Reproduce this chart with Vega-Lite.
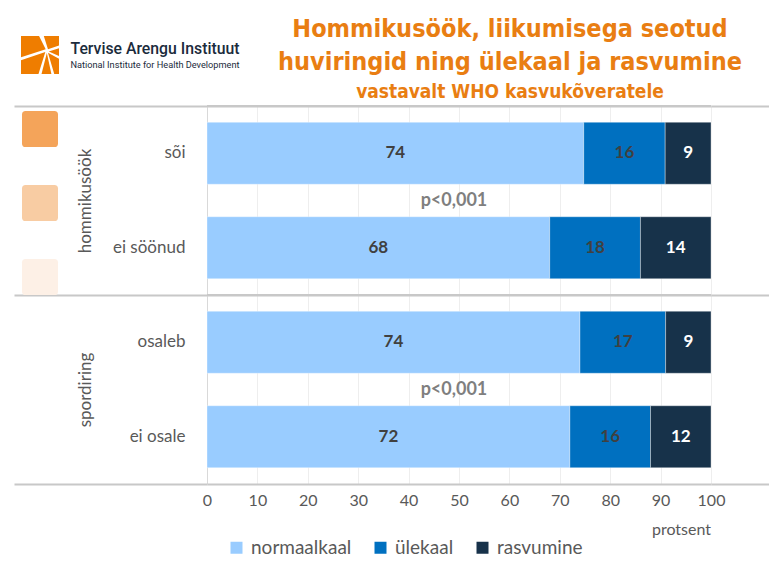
{
  "$schema": "https://vega.github.io/schema/vega-lite/v6.json",
  "width": 504,
  "height": 378,
  "autosize": {"type": "none"},
  "padding": {"left": 207, "top": 106, "right": 58, "bottom": 96},
  "background": "white",
  "config": {"view": {"stroke": null}, "font": "Lato"},
  "title": {
    "text": ["Hommikusöök, liikumisega seotud", "huviringid ning ülekaal ja rasvumine"],
    "subtitle": "vastavalt WHO kasvukõveratele",
    "anchor": "middle",
    "frame": "group",
    "dx": 51,
    "dy": 71,
    "offset": 5,
    "font": "DejaVu Sans Condensed",
    "fontSize": 25,
    "fontWeight": "bold",
    "color": "#E97E12",
    "lineHeight": 33,
    "subtitleFont": "DejaVu Sans Condensed",
    "subtitleFontSize": 19,
    "subtitleFontWeight": "bold",
    "subtitleColor": "#E97E12",
    "subtitlePadding": 8
  },
  "layer": [
    {
      "data": {
        "values": [
          {"group": "hommikusöök", "cat": "sõi", "type": "normaalkaal", "k": 1, "value": 74},
          {"group": "hommikusöök", "cat": "sõi", "type": "ülekaal", "k": 2, "value": 16},
          {"group": "hommikusöök", "cat": "sõi", "type": "rasvumine", "k": 3, "value": 9},
          {"group": "hommikusöök", "cat": "ei söönud", "type": "normaalkaal", "k": 1, "value": 68},
          {"group": "hommikusöök", "cat": "ei söönud", "type": "ülekaal", "k": 2, "value": 18},
          {"group": "hommikusöök", "cat": "ei söönud", "type": "rasvumine", "k": 3, "value": 14},
          {"group": "spordiring", "cat": "osaleb", "type": "normaalkaal", "k": 1, "value": 74},
          {"group": "spordiring", "cat": "osaleb", "type": "ülekaal", "k": 2, "value": 17},
          {"group": "spordiring", "cat": "osaleb", "type": "rasvumine", "k": 3, "value": 9},
          {"group": "spordiring", "cat": "ei osale", "type": "normaalkaal", "k": 1, "value": 72},
          {"group": "spordiring", "cat": "ei osale", "type": "ülekaal", "k": 2, "value": 16},
          {"group": "spordiring", "cat": "ei osale", "type": "rasvumine", "k": 3, "value": 12}
        ]
      },
      "transform": [
        {"stack": "value", "groupby": ["cat"], "sort": [{"field": "k", "order": "ascending"}], "offset": "normalize", "as": ["v0", "v1"]},
        {"calculate": "(datum.v0 + datum.v1) / 2", "as": "vm"}
      ],
      "encoding": {
        "y": {
          "field": "cat",
          "type": "nominal",
          "sort": ["sõi", "ei söönud", "osaleb", "ei osale"],
          "scale": {"paddingInner": 0.344, "paddingOuter": 0.172},
          "axis": {
            "title": "Tervise Arengu Instituut",
            "titleAngle": 0,
            "titleX": -137,
            "titleY": -53,
            "titleAlign": "left",
            "titleBaseline": "alphabetic",
            "titleFont": "Roboto",
            "titleFontSize": 15.8,
            "titleFontWeight": 500,
            "titleColor": "#1b2b3c",
            "labelFont": "Lato",
            "labelFontSize": 17,
            "labelColor": "#595959",
            "labelPadding": 22,
            "ticks": false,
            "domain": true,
            "domainColor": "#d9d9d9",
            "domainWidth": 1,
            "grid": false
          }
        }
      },
      "layer": [
        {
          "mark": {"type": "bar", "stroke": "white", "strokeWidth": 1, "strokeOpacity": 0.35},
          "encoding": {
            "x": {
              "field": "v0",
              "type": "quantitative",
              "scale": {"domain": [0, 1], "nice": false},
              "axis": {
                "values": [0, 0.1, 0.2, 0.3, 0.4, 0.5, 0.6, 0.7, 0.8, 0.9, 1],
                "labelExpr": "format(datum.value * 100, 'd')",
                "labelFont": "Lato",
                "labelFontSize": 16,
                "labelColor": "#595959",
                "labelPadding": 8,
                "labelFlush": false,
                "labelOverlap": false,
                "ticks": false,
                "domain": false,
                "grid": true,
                "gridColor": "#eeeeee",
                "gridWidth": 1,
                "title": "protsent",
                "titleX": 474,
                "titleY": 45,
                "titleAlign": "center",
                "titleBaseline": "middle",
                "titleFont": "Lato",
                "titleFontSize": 16,
                "titleFontWeight": "normal",
                "titleColor": "#595959"
              }
            },
            "x2": {"field": "v1"},
            "color": {
              "field": "type",
              "type": "nominal",
              "scale": {"domain": ["normaalkaal", "ülekaal", "rasvumine"], "range": ["#99CCFF", "#0070C0", "#17324A"]},
              "legend": {
                "orient": "none",
                "legendX": 20,
                "legendY": 432,
                "direction": "horizontal",
                "title": null,
                "symbolType": "square",
                "symbolSize": 144,
                "symbolStrokeWidth": 0,
                "labelFont": "Lato",
                "labelFontSize": 19,
                "labelColor": "#595959",
                "labelOffset": 5,
                "columnPadding": 19,
                "padding": 0
              }
            }
          }
        },
        {
          "mark": {"type": "text", "fontWeight": "bold", "fontSize": 17, "font": "Lato"},
          "encoding": {
            "x": {"field": "vm", "type": "quantitative"},
            "text": {"field": "value"},
            "color": {"condition": {"test": "datum.type === 'rasvumine'", "value": "white"}, "value": "#404040"}
          }
        }
      ]
    },
    {
      "data": {"values": [{"group": "hommikusöök", "p": "p<0,001"}, {"group": "spordiring", "p": "p<0,001"}]},
      "mark": {"type": "text", "fontWeight": "bold", "fontSize": 18, "color": "#7f7f7f", "font": "Lato"},
      "encoding": {
        "x": {"datum": 0.49, "type": "quantitative"},
        "text": {"field": "p"},
        "y": {
          "field": "group",
          "type": "nominal",
          "scale": {"paddingInner": 0, "paddingOuter": 0},
          "axis": {
            "orient": "left",
            "title": "National Institute for Health Development",
            "titleAngle": 0,
            "titleX": -137,
            "titleY": -39,
            "titleAlign": "left",
            "titleBaseline": "alphabetic",
            "titleFont": "Roboto",
            "titleFontSize": 9.2,
            "titleFontWeight": "normal",
            "titleColor": "#1b2b3c",
            "labelAngle": -90,
            "labelAlign": "center",
            "labelBaseline": "middle",
            "labelPadding": -71,
            "labelFont": "Lato",
            "labelFontSize": 17,
            "labelColor": "#595959",
            "tickBand": "extent",
            "tickSize": 193,
            "tickColor": "#c8c8c8",
            "tickWidth": 2,
            "grid": true,
            "gridColor": "#c8c8c8",
            "gridWidth": 2,
            "domain": false
          }
        }
      }
    },
    {
      "data": {"values": [{"group": "hommikusöök"}, {"group": "spordiring"}]},
      "mark": {"type": "rule", "color": "#c8c8c8", "strokeWidth": 2},
      "encoding": {
        "y": {
          "field": "group",
          "type": "nominal",
          "bandPosition": 0,
          "scale": {"paddingInner": 0, "paddingOuter": 0},
          "axis": {
            "orient": "right",
            "title": null,
            "labels": false,
            "tickBand": "extent",
            "tickSize": 58,
            "tickColor": "#c8c8c8",
            "tickWidth": 2,
            "grid": false,
            "domain": false
          }
        }
      }
    },
    {
      "data": {"values": [{"swatch": "1"}, {"swatch": "2"}, {"swatch": "3"}]},
      "mark": {"type": "point", "filled": true, "opacity": 0},
      "encoding": {
        "fill": {
          "field": "swatch",
          "type": "nominal",
          "scale": {"range": ["#F4A45A", "#F8CCA3", "#FDF0E6"]},
          "legend": {
            "orient": "none",
            "legendX": -185,
            "legendY": 5,
            "direction": "vertical",
            "title": null,
            "symbolType": "M -0.8,-1 L 0.8,-1 Q 1,-1 1,-0.8 L 1,0.8 Q 1,1 0.8,1 L -0.8,1 Q -1,1 -1,0.8 L -1,-0.8 Q -1,-1 -0.8,-1 Z",
            "symbolSize": 1296,
            "symbolOpacity": 1,
            "symbolStrokeWidth": 0,
            "labelExpr": "''",
            "rowPadding": 38,
            "padding": 0
          }
        }
      }
    },
    {
      "data": {"values": [{"logo": "TAI"}]},
      "mark": {"type": "point", "filled": true, "opacity": 0, "color": "#EF7D00"},
      "encoding": {
        "shape": {
          "field": "logo",
          "type": "nominal",
          "scale": {"range": ["M-1,-1L-0.05,-1L0.3,-0.3L-1,0.12Z M0.2,-1L1,-1L1,-0.5L0.42,-0.3Z M1,-0.35L1,0.05L0.46,-0.19Z M1,0.2L1,1L0.75,1L0.42,-0.12Z M0.08,1L0.6,1L0.36,-0.1Z M-1,0.28L0.28,-0.16L-0.08,1L-1,1Z"]},
          "legend": {
            "orient": "none",
            "legendX": -186,
            "legendY": -70,
            "title": null,
            "symbolSize": 1444,
            "symbolOpacity": 1,
            "symbolFillColor": "#EF7D00",
            "symbolStrokeWidth": 0,
            "labelExpr": "''",
            "padding": 0
          }
        }
      }
    }
  ],
  "resolve": {"scale": {"y": "independent", "shape": "independent"}}
}
